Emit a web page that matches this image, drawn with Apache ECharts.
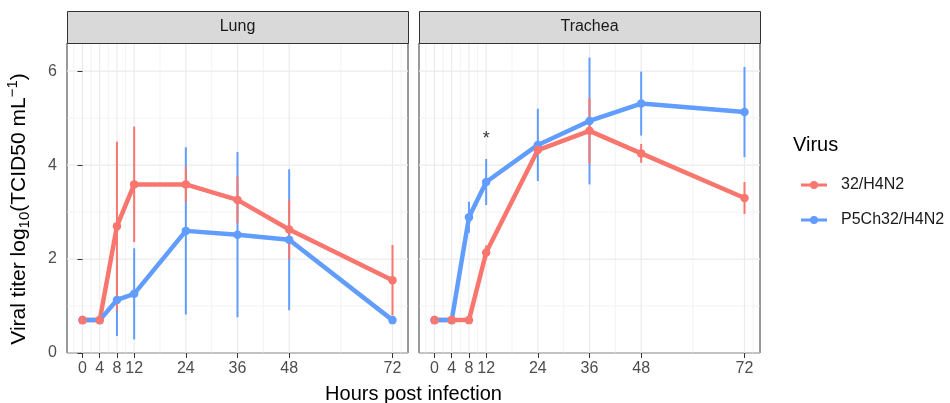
<!DOCTYPE html>
<html><head><meta charset="utf-8">
<script src="https://cdn.jsdelivr.net/npm/echarts@6/dist/echarts.min.js"></script>
<style>html,body{margin:0;padding:0;background:#fff}#c{width:950px;height:403px}</style>
</head><body><div id="c"></div>
<script>
// ---- data ----
const hours = [0, 4, 8, 12, 24, 36, 48, 72];
const xBreaks = [0, 4, 8, 12, 24, 36, 48, 72];
const xMinor = [-2, 2, 6, 10, 18, 30, 42, 60, 74];
const yBreaks = [0, 2, 4, 6];
const yMinor = [1, 3, 5];
const panels = ['Lung', 'Trachea'];
const viruses = ['32/H4N2', 'P5Ch32/H4N2'];

const lungRed = [0.7, 0.7, 2.70, 3.59, 3.59, 3.26, 2.63, 1.55];
const lungRedSd = [0, 0, 1.80, 1.23, 0.38, 0.50, 0.63, 0.75];
const lungBlue = [0.7, 0.7, 1.13, 1.26, 2.60, 2.52, 2.41, 0.7];
const lungBlueSd = [0, 0, 0.77, 0.97, 1.78, 1.76, 1.50, 0];
const trachRed = [0.7, 0.7, 0.7, 2.14, 4.32, 4.73, 4.25, 3.30];
const trachRedSd = [0, 0, 0, 0.15, 0.10, 0.70, 0.20, 0.34];
const trachBlue = [0.7, 0.7, 2.89, 3.64, 4.43, 4.94, 5.31, 5.13];
const trachBlueSd = [0, 0, 0.33, 0.49, 0.77, 1.35, 0.68, 0.96];
const annotations = [{panel: 1, x: 12, y: 4.55, text: '*'}];

// ---- chart ----
const FONT = '"Liberation Sans", Arial, Helvetica, sans-serif';
const RED = '#F8766D', BLUE = '#619CFF';
const GRID_COL = '#EBEBEB';
const gridDefs = [
  {left: 67, top: 43, width: 341, height: 310},
  {left: 419, top: 43, width: 341, height: 310}
];

const chart = echarts.init(document.getElementById('c'), null, {renderer: 'canvas'});

function gridLineSeries(gi) {
  const data = [];
  xBreaks.forEach(v => data.push([v, 0, 0]));
  xMinor.forEach(v => data.push([v, 0, 1]));
  yBreaks.forEach(v => data.push([0, v, 2]));
  yMinor.forEach(v => data.push([0, v, 3]));
  return {
    type: 'custom', xAxisIndex: gi, yAxisIndex: gi, z: 0, silent: true, animation: false,
    data: data,
    renderItem: (params, api) => {
      const cs = params.coordSys;
      const kind = api.value(2);
      const major = (kind === 0 || kind === 2);
      let shape;
      if (kind < 2) {
        const x = api.coord([api.value(0), 0])[0];
        shape = {x1: x, y1: cs.y, x2: x, y2: cs.y + cs.height};
      } else {
        const y = api.coord([0, api.value(1)])[1];
        shape = {x1: cs.x, y1: y, x2: cs.x + cs.width, y2: y};
      }
      return {type: 'line', shape: shape, style: {stroke: GRID_COL, lineWidth: major ? 1.2 : 0.6}};
    }
  };
}

function errSeries(name, gi, means, sds, color, z) {
  return {
    type: 'custom', name: name, xAxisIndex: gi, yAxisIndex: gi, z: z, silent: true, animation: false,
    data: hours.map((h, i) => [h, means[i] - sds[i], means[i] + sds[i]]).filter(d => d[2] - d[1] > 0),
    encode: {x: 0, y: [1, 2]},
    renderItem: (params, api) => {
      const p1 = api.coord([api.value(0), api.value(1)]);
      const p2 = api.coord([api.value(0), api.value(2)]);
      return {type: 'line', shape: {x1: p1[0], y1: p1[1], x2: p2[0], y2: p2[1]},
        style: {stroke: color, lineWidth: 2}};
    }
  };
}

function lineSeries(name, gi, vals, color, z) {
  return {
    type: 'line', name: name, xAxisIndex: gi, yAxisIndex: gi, z: z, silent: true, animation: false,
    data: hours.map((h, i) => [h, vals[i]]), showSymbol: false,
    lineStyle: {width: 4.5, color: color}, itemStyle: {color: color}
  };
}

function pointSeries(name, gi, vals, color, z) {
  return {
    type: 'scatter', name: name, xAxisIndex: gi, yAxisIndex: gi, z: z, silent: true, animation: false,
    data: hours.map((h, i) => [h, vals[i]]), symbolSize: 8.5,
    itemStyle: {color: color, opacity: 1}
  };
}

const series = [];
[[lungRed, lungRedSd, lungBlue, lungBlueSd], [trachRed, trachRedSd, trachBlue, trachBlueSd]].forEach((d, gi) => {
  series.push(gridLineSeries(gi));
  series.push(lineSeries(viruses[0], gi, d[0], RED, 2));
  series.push(lineSeries(viruses[1], gi, d[2], BLUE, 3));
  series.push(errSeries(viruses[1], gi, d[2], d[3], BLUE, 4));
  series.push(errSeries(viruses[0], gi, d[0], d[1], RED, 5));
  series.push(pointSeries(viruses[1], gi, d[2], BLUE, 6));
  series.push(pointSeries(viruses[0], gi, d[0], RED, 7));
});
series.push({
  type: 'scatter', xAxisIndex: annotations[0].panel, yAxisIndex: annotations[0].panel, z: 8, silent: true,
  symbolSize: 0, animation: false,
  data: annotations.map(a => ({value: [a.x, a.y], label: {show: true, formatter: a.text}})),
  label: {position: 'inside', color: '#000', fontSize: 18, fontFamily: FONT}
});

const xAxes = gridDefs.map((g, gi) => ({
  type: 'value', gridIndex: gi, min: -3.6, max: 75.6,
  axisLine: {show: false},
  splitLine: {show: false},
  axisTick: {show: true, customValues: xBreaks, length: 5, lineStyle: {color: '#333333', width: 1}},
  axisLabel: {customValues: xBreaks, color: '#4D4D4D', fontSize: 16, fontFamily: FONT, margin: 8}
}));
const yAxes = gridDefs.map((g, gi) => ({
  type: 'value', gridIndex: gi, min: 0, max: 6.6,
  axisLine: {show: false},
  splitLine: {show: false},
  axisTick: {show: gi === 0, customValues: yBreaks, length: 5, lineStyle: {color: '#333333', width: 1}},
  axisLabel: {show: gi === 0, customValues: yBreaks, color: '#4D4D4D', fontSize: 16, fontFamily: FONT, margin: 10}
}));

const ICON = 'path://M0,2.6 H26 V5.4 H0 Z M9,4 A4,4 0 1 1 17,4 A4,4 0 1 1 9,4 Z';

const graphics = [];
gridDefs.forEach((g, gi) => {
  graphics.push({type: 'rect', left: g.left, top: 11, shape: {x: 0, y: 0, width: g.width, height: 32},
    style: {fill: '#D9D9D9', stroke: '#333333', lineWidth: 1}, z: 10});
  graphics.push({type: 'text', x: g.left + g.width / 2, y: 27, z: 11,
    style: {text: panels[gi], fill: '#1A1A1A', font: '16px ' + FONT, textAlign: 'center', textVerticalAlign: 'middle'}});
});
graphics.push({type: 'text', x: 413.5, y: 394, z: 11,
  style: {text: 'Hours post infection', fill: '#000', font: '20px ' + FONT, textAlign: 'center', textVerticalAlign: 'middle'}});
graphics.push({type: 'text', x: 793, y: 145, z: 11,
  style: {text: 'Virus', fill: '#000', font: '20px ' + FONT, textAlign: 'left', textVerticalAlign: 'middle'}});
graphics.push({type: 'text', x: 19, y: 209, rotation: Math.PI / 2, z: 11,
  style: {
    text: 'Viral titer log{sub|10}(TCID50 mL{sup|−1})',
    fill: '#000', fontSize: 21, fontFamily: FONT, align: 'center', verticalAlign: 'middle',
    lineHeight: 27,
    rich: {
      sub: {fontSize: 15, fontFamily: FONT, fill: '#000', verticalAlign: 'bottom', lineHeight: 27},
      sup: {fontSize: 15, fontFamily: FONT, fill: '#000', verticalAlign: 'top', lineHeight: 27}
    }
  }});

chart.setOption({
  animation: false,
  backgroundColor: '#ffffff',
  grid: gridDefs.map(g => Object.assign({show: true, borderColor: '#333333', borderWidth: 1, backgroundColor: 'transparent', containLabel: false}, g)),
  xAxis: xAxes,
  yAxis: yAxes,
  legend: {
    orient: 'vertical', left: 796, top: 172, itemWidth: 26, itemHeight: 8, itemGap: 19,
    selectedMode: false,
    textStyle: {fontSize: 16, color: '#1A1A1A', fontFamily: FONT, padding: [0, 0, 0, 9]},
    data: [{name: viruses[0], icon: ICON}, {name: viruses[1], icon: ICON}]
  },
  series: series,
  graphic: graphics
});
</script>
</body></html>
